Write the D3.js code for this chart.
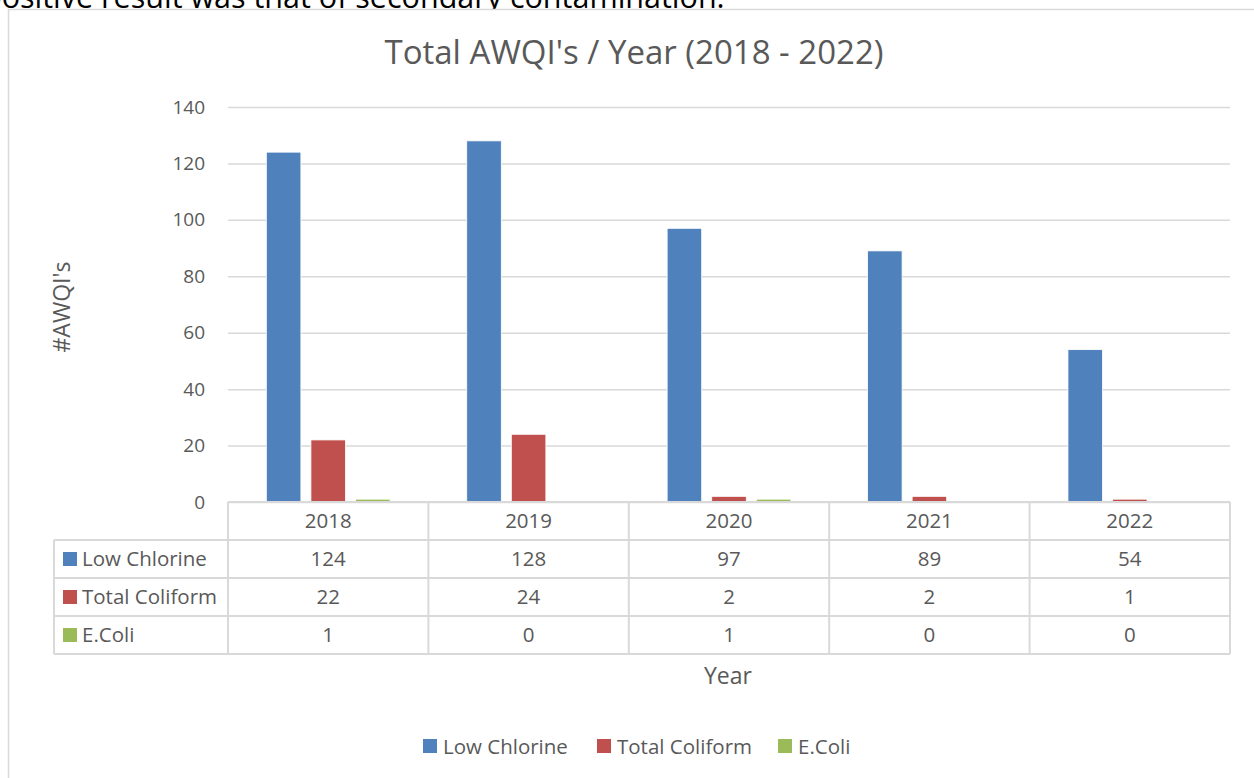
<!DOCTYPE html>
<html>
<head>
<meta charset="utf-8">
<script src="https://cdn.jsdelivr.net/npm/d3@7"></script>
<style>
  body { margin: 0; background: #fff; }
  svg { display: block; font-family: "Open Sans", sans-serif; }
</style>
</head>
<body>
<div id="chart"></div>
<script>
// chart data
var years = ["2018", "2019", "2020", "2021", "2022"];
var seriesNames = ["Low Chlorine", "Total Coliform", "E.Coli"];
var lowChlorine = [124, 128, 97, 89, 54];
var totalColiform = [22, 24, 2, 2, 1];
var eColi = [1, 0, 1, 0, 0];
var yTicks = [0, 20, 40, 60, 80, 100, 120, 140];
var colors = ["#4f81bd", "#c0504d", "#9bbb59"];

var seriesValues = [lowChlorine, totalColiform, eColi];

var width = 1254, height = 778;
var textColor = "#595959", gridColor = "#d9d9d9";

var svg = d3.select("#chart").append("svg")
    .attr("width", width)
    .attr("height", height);

// leftover line of the document text above the chart
svg.append("text")
    .attr("x", -17)
    .attr("y", 8)
    .attr("font-size", 30.5)
    .attr("fill", "#000")
    .text("positive result was that of secondary contamination.");

// chart frame
svg.append("rect")
    .attr("x", 8.5).attr("y", 9.5)
    .attr("width", 1260).attr("height", 800)
    .attr("fill", "#fff")
    .attr("stroke", gridColor)
    .attr("stroke-width", 1.5);

var plotLeft = 228, plotRight = 1230, plotTop = 107, plotBottom = 502;

var x = d3.scaleBand().domain(years).range([plotLeft, plotRight]).padding(0);
var xInner = d3.scaleBand().domain(seriesNames)
    .range([0, x.bandwidth()])
    .paddingInner(0.225).paddingOuter(0.86);
var y = d3.scaleLinear().domain([0, 140]).range([plotBottom, plotTop]);

// title
svg.append("text")
    .attr("x", 634).attr("y", 64)
    .attr("text-anchor", "middle")
    .attr("font-size", 33)
    .attr("fill", textColor)
    .text("Total AWQI's / Year (2018 - 2022)");

// gridlines and y axis
var yAxis = d3.axisLeft(y).tickValues(yTicks).tickSize(-(plotRight - plotLeft)).tickPadding(23);
var gy = svg.append("g")
    .attr("transform", "translate(" + plotLeft + ",0)")
    .call(yAxis);
gy.select(".domain").remove();
gy.selectAll(".tick line").attr("stroke", gridColor).attr("stroke-width", 1.5);
gy.selectAll(".tick text").attr("fill", textColor).attr("font-size", 19)
    .attr("font-family", "Open Sans, sans-serif");

// y title
svg.append("text")
    .attr("transform", "translate(70,307) rotate(-90)")
    .attr("text-anchor", "middle")
    .attr("font-size", 23)
    .attr("fill", textColor)
    .text("#AWQI's");

// bars
var groups = svg.selectAll(".year")
    .data(years)
    .enter().append("g")
    .attr("class", "year")
    .attr("transform", function(d) { return "translate(" + x(d) + ",0)"; });

groups.selectAll("rect")
    .data(function(d, i) {
        return seriesNames.map(function(s, j) { return {name: s, value: seriesValues[j][i], color: colors[j]}; });
    })
    .enter().append("rect")
    .attr("x", function(d) { return xInner(d.name); })
    .attr("y", function(d) { return y(d.value); })
    .attr("width", xInner.bandwidth())
    .attr("height", function(d) { return y(0) - y(d.value); })
    .attr("fill", function(d) { return d.color; })
    .attr("stroke", "#fff")
    .attr("stroke-width", 0.8);

// data table
var rowH = 38;
var tableLeft = 54;
var fs = 20.5;
var table = svg.append("g").attr("class", "table");

// year headers
table.selectAll(".yr")
    .data(years)
    .enter().append("text")
    .attr("x", function(d) { return x(d) + x.bandwidth() / 2; })
    .attr("y", plotBottom + rowH / 2 + 7)
    .attr("text-anchor", "middle")
    .attr("font-size", fs)
    .attr("fill", textColor)
    .text(function(d) { return d; });

// row lines
table.append("line")
    .attr("x1", plotLeft).attr("x2", plotRight)
    .attr("y1", plotBottom).attr("y2", plotBottom);
[1, 2, 3, 4].forEach(function(r) {
    table.append("line")
        .attr("x1", tableLeft).attr("x2", plotRight)
        .attr("y1", plotBottom + r * rowH).attr("y2", plotBottom + r * rowH);
});
// column lines
years.forEach(function(yr) {
    table.append("line")
        .attr("x1", x(yr)).attr("x2", x(yr))
        .attr("y1", plotBottom).attr("y2", plotBottom + 4 * rowH);
});
table.append("line")
    .attr("x1", plotRight).attr("x2", plotRight)
    .attr("y1", plotBottom).attr("y2", plotBottom + 4 * rowH);
table.append("line")
    .attr("x1", tableLeft).attr("x2", tableLeft)
    .attr("y1", plotBottom + rowH).attr("y2", plotBottom + 4 * rowH);
table.selectAll("line").attr("stroke", gridColor).attr("stroke-width", 2);

seriesNames.forEach(function(s, j) {
    var rowY = plotBottom + (j + 1) * rowH;
    table.append("rect")
        .attr("x", 63).attr("y", rowY + 12)
        .attr("width", 14).attr("height", 14)
        .attr("fill", colors[j]);
    table.append("text")
        .attr("x", 82).attr("y", rowY + rowH / 2 + 7)
        .attr("font-size", fs)
        .attr("fill", textColor)
        .text(s);
    table.selectAll(".v" + j)
        .data(seriesValues[j])
        .enter().append("text")
        .attr("x", function(d, i) { return x(years[i]) + x.bandwidth() / 2; })
        .attr("y", rowY + rowH / 2 + 7)
        .attr("text-anchor", "middle")
        .attr("font-size", fs)
        .attr("fill", textColor)
        .text(function(d) { return d; });
});

// x title
svg.append("text")
    .attr("x", 728).attr("y", 684)
    .attr("text-anchor", "middle")
    .attr("font-size", 23)
    .attr("fill", textColor)
    .text("Year");

// legend
var legendX = [423, 597, 778];
var legend = svg.selectAll(".legend")
    .data(seriesNames)
    .enter().append("g")
    .attr("class", "legend")
    .attr("transform", function(d, i) { return "translate(" + legendX[i] + ",739)"; });
legend.append("rect")
    .attr("width", 14).attr("height", 14)
    .attr("fill", function(d, i) { return colors[i]; });
legend.append("text")
    .attr("x", 20).attr("y", 15)
    .attr("font-size", fs)
    .attr("fill", textColor)
    .text(function(d) { return d; });
</script>
</body>
</html>
